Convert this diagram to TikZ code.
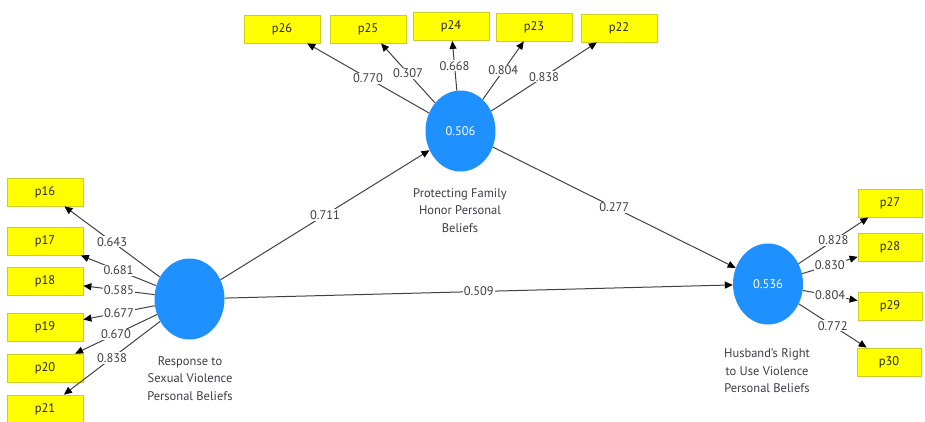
\documentclass[tikz,border=0pt]{standalone}
\usepackage{fontspec}
\setmainfont{PT Sans}
\usetikzlibrary{shapes.geometric,arrows.meta}
\definecolor{lvblue}{RGB}{30,144,255}
\definecolor{indfill}{RGB}{255,255,0}
\definecolor{indborder}{RGB}{205,205,40}
\definecolor{edgecol}{RGB}{65,65,65}
\definecolor{txtcol}{RGB}{60,60,70}
\begin{document}
\begin{tikzpicture}[x=1pt,y=-1pt,
  ibox/.style={draw=indborder, fill=indfill, line width=0.8pt, minimum width=76pt, minimum height=28pt, inner sep=0pt, text=black!85, font=\fontsize{12.5}{14}\selectfont},
  rbox/.style={ibox, minimum width=64pt},
  lv/.style={ellipse, fill=lvblue, minimum width=70pt, minimum height=81pt, inner sep=0pt, text=white, font=\fontsize{12.5}{14}\selectfont},
  lvcap/.style={align=center, text=txtcol, font=\fontsize{12.5}{17.5}\selectfont},
  arr/.style={draw=edgecol, line width=1pt, -{Triangle[length=8pt,width=7pt,color=black]}},
  wl/.style={fill=white, inner sep=1pt, text=txtcol, font=\fontsize{12.5}{14}\selectfont, pos=0.5}
]
\useasboundingbox (0,0) rectangle (925,421);

% latent variables
\node[lv] (L) at (189.5,299) {};
\node[lv] (T) at (460.5,131) {0.506};
\node[lv] (R) at (768,284) {0.536};

\node[lvcap] (Lc) at (190,378.5) {Response to\\Sexual Violence\\Personal Beliefs};
\node[lvcap] (Tc) at (460,210.5) {Protecting Family\\Honor Personal\\Beliefs};
\node[lvcap] (Rc) at (767,371) {Husband's Right\\to Use Violence\\Personal Beliefs};

% left indicators
\node[ibox] (p16) at (45,192) {p16};
\node[ibox] (p17) at (45,241) {p17};
\node[ibox] (p18) at (45,281) {p18};
\node[ibox] (p19) at (45,327) {p19};
\node[ibox] (p20) at (45,368) {p20};
\node[ibox] (p21) at (45,409) {p21};

% top indicators
\node[ibox] (p26) at (282,29) {p26};
\node[ibox] (p25) at (368,29) {p25};
\node[ibox] (p24) at (451,26.5) {p24};
\node[ibox] (p23) at (534,27) {p23};
\node[ibox] (p22) at (619,28) {p22};

% right indicators
\node[rbox] (p27) at (890,203) {p27};
\node[rbox] (p28) at (890,247) {p28};
\node[rbox] (p29) at (890,306.5) {p29};
\node[rbox] (p30) at (889,362) {p30};

% left loadings
\draw[arr] (L) -- (p16) node[wl] {0.643};
\draw[arr] (L) -- (p17) node[wl] {0.681};
\draw[arr] (L) -- (p18) node[wl] {0.585};
\draw[arr] (L) -- (p19) node[wl] {0.677};
\draw[arr] (L) -- (p20) node[wl] {0.670};
\draw[arr] (L) -- (p21) node[wl] {0.838};

% top loadings
\draw[arr] (T) -- (p26) node[wl] {0.770};
\draw[arr] (T) -- (p25) node[wl] {0.307};
\draw[arr] (T) -- (p24) node[wl] {0.668};
\draw[arr] (T) -- (p23) node[wl] {0.804};
\draw[arr] (T) -- (p22) node[wl] {0.838};

% right loadings
\draw[arr] (R) -- (p27) node[wl] {0.828};
\draw[arr] (R) -- (p28) node[wl] {0.830};
\draw[arr] (R) -- (p29) node[wl] {0.804};
\draw[arr] (R) -- (p30) node[wl] {0.772};

% structural paths
\draw[arr] (L) -- (T) node[wl] {0.711};
\draw[arr] (T) -- (R) node[wl] {0.277};
\draw[arr] (L) -- (R) node[wl] {0.509};
\end{tikzpicture}
\end{document}
